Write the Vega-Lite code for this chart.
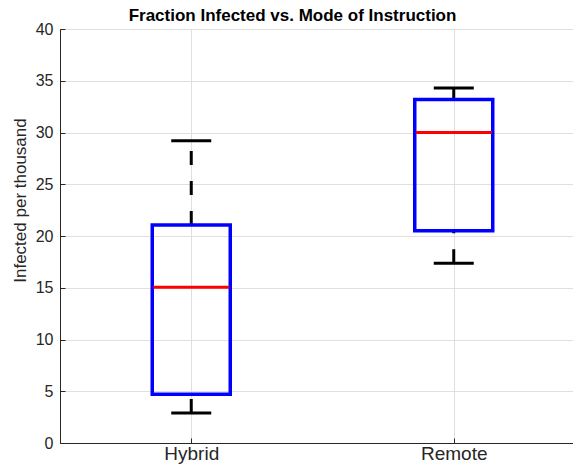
{
  "$schema": "https://vega.github.io/schema/vega-lite/v6.json",
  "autosize": {"type": "none"},
  "padding": {"left": 60, "top": 29, "right": 0, "bottom": 22},
  "width": 525,
  "height": 414,
  "background": "white",
  "title": {
    "text": "Fraction Infected vs. Mode of Instruction",
    "font": "Liberation Sans",
    "fontSize": 17,
    "fontWeight": "bold",
    "color": "#000000",
    "anchor": "middle",
    "frame": "group",
    "dx": -30,
    "dy": 23,
    "baseline": "alphabetic",
    "offset": 6
  },
  "config": {
    "view": {"stroke": "#262626", "strokeWidth": 1},
    "axis": {
      "labelFont": "Liberation Sans",
      "titleFont": "Liberation Sans",
      "labelColor": "#262626",
      "titleColor": "#262626",
      "domainColor": "#262626",
      "tickColor": "#262626",
      "gridColor": "#dfdfdf",
      "gridWidth": 1,
      "grid": true
    }
  },
  "data": {
    "values": [
      {"group": "Hybrid", "lower": 2.9, "q1": 4.7, "median": 15.05, "q3": 21.06, "upper": 29.2},
      {"group": "Remote", "lower": 17.37, "q1": 20.5, "median": 30.0, "q3": 33.2, "upper": 34.3}
    ]
  },
  "encoding": {
    "x": {
      "field": "group",
      "type": "nominal",
      "scale": {"type": "point", "padding": 0.5},
      "axis": {
        "title": null,
        "labelAngle": 0,
        "labelFontSize": 19,
        "tickSize": -5,
        "labelPadding": 6,
        "domain": true
      }
    }
  },
  "layer": [
    {
      "mark": {"type": "rule", "color": "#000000", "strokeWidth": 3, "strokeDash": [14, 16], "strokeCap": "butt"},
      "encoding": {
        "y": {
          "field": "q3",
          "type": "quantitative",
          "scale": {"domain": [0, 40], "nice": false},
          "axis": {
            "title": "Infected per thousand",
            "titleFontSize": 17,
            "titleFontWeight": "normal",
            "titleAngle": -90,
            "titleX": -35,
            "titleY": 171,
            "titleAlign": "center",
            "titleBaseline": "alphabetic",
            "labelFontSize": 16,
            "values": [0, 5, 10, 15, 20, 25, 30, 35, 40],
            "tickSize": -5,
            "labelPadding": 12
          }
        },
        "y2": {"field": "upper"}
      }
    },
    {
      "mark": {"type": "rule", "color": "#000000", "strokeWidth": 3, "strokeDash": [14, 16], "strokeCap": "butt"},
      "encoding": {
        "y": {"field": "lower", "type": "quantitative"},
        "y2": {"field": "q1"}
      }
    },
    {
      "mark": {"type": "bar", "size": 78, "fill": "white", "fillOpacity": 0, "stroke": "#0000ff", "strokeWidth": 3.5},
      "encoding": {
        "y": {"field": "q1", "type": "quantitative"},
        "y2": {"field": "q3"}
      }
    },
    {
      "mark": {"type": "tick", "orient": "horizontal", "size": 76, "thickness": 3, "color": "#ff0000", "opacity": 1},
      "encoding": {
        "y": {"field": "median", "type": "quantitative"}
      }
    },
    {
      "mark": {"type": "tick", "orient": "horizontal", "size": 40, "thickness": 3, "color": "#000000", "opacity": 1},
      "encoding": {
        "y": {"field": "upper", "type": "quantitative"}
      }
    },
    {
      "mark": {"type": "tick", "orient": "horizontal", "size": 40, "thickness": 3, "color": "#000000", "opacity": 1},
      "encoding": {
        "y": {"field": "lower", "type": "quantitative"}
      }
    }
  ]
}
